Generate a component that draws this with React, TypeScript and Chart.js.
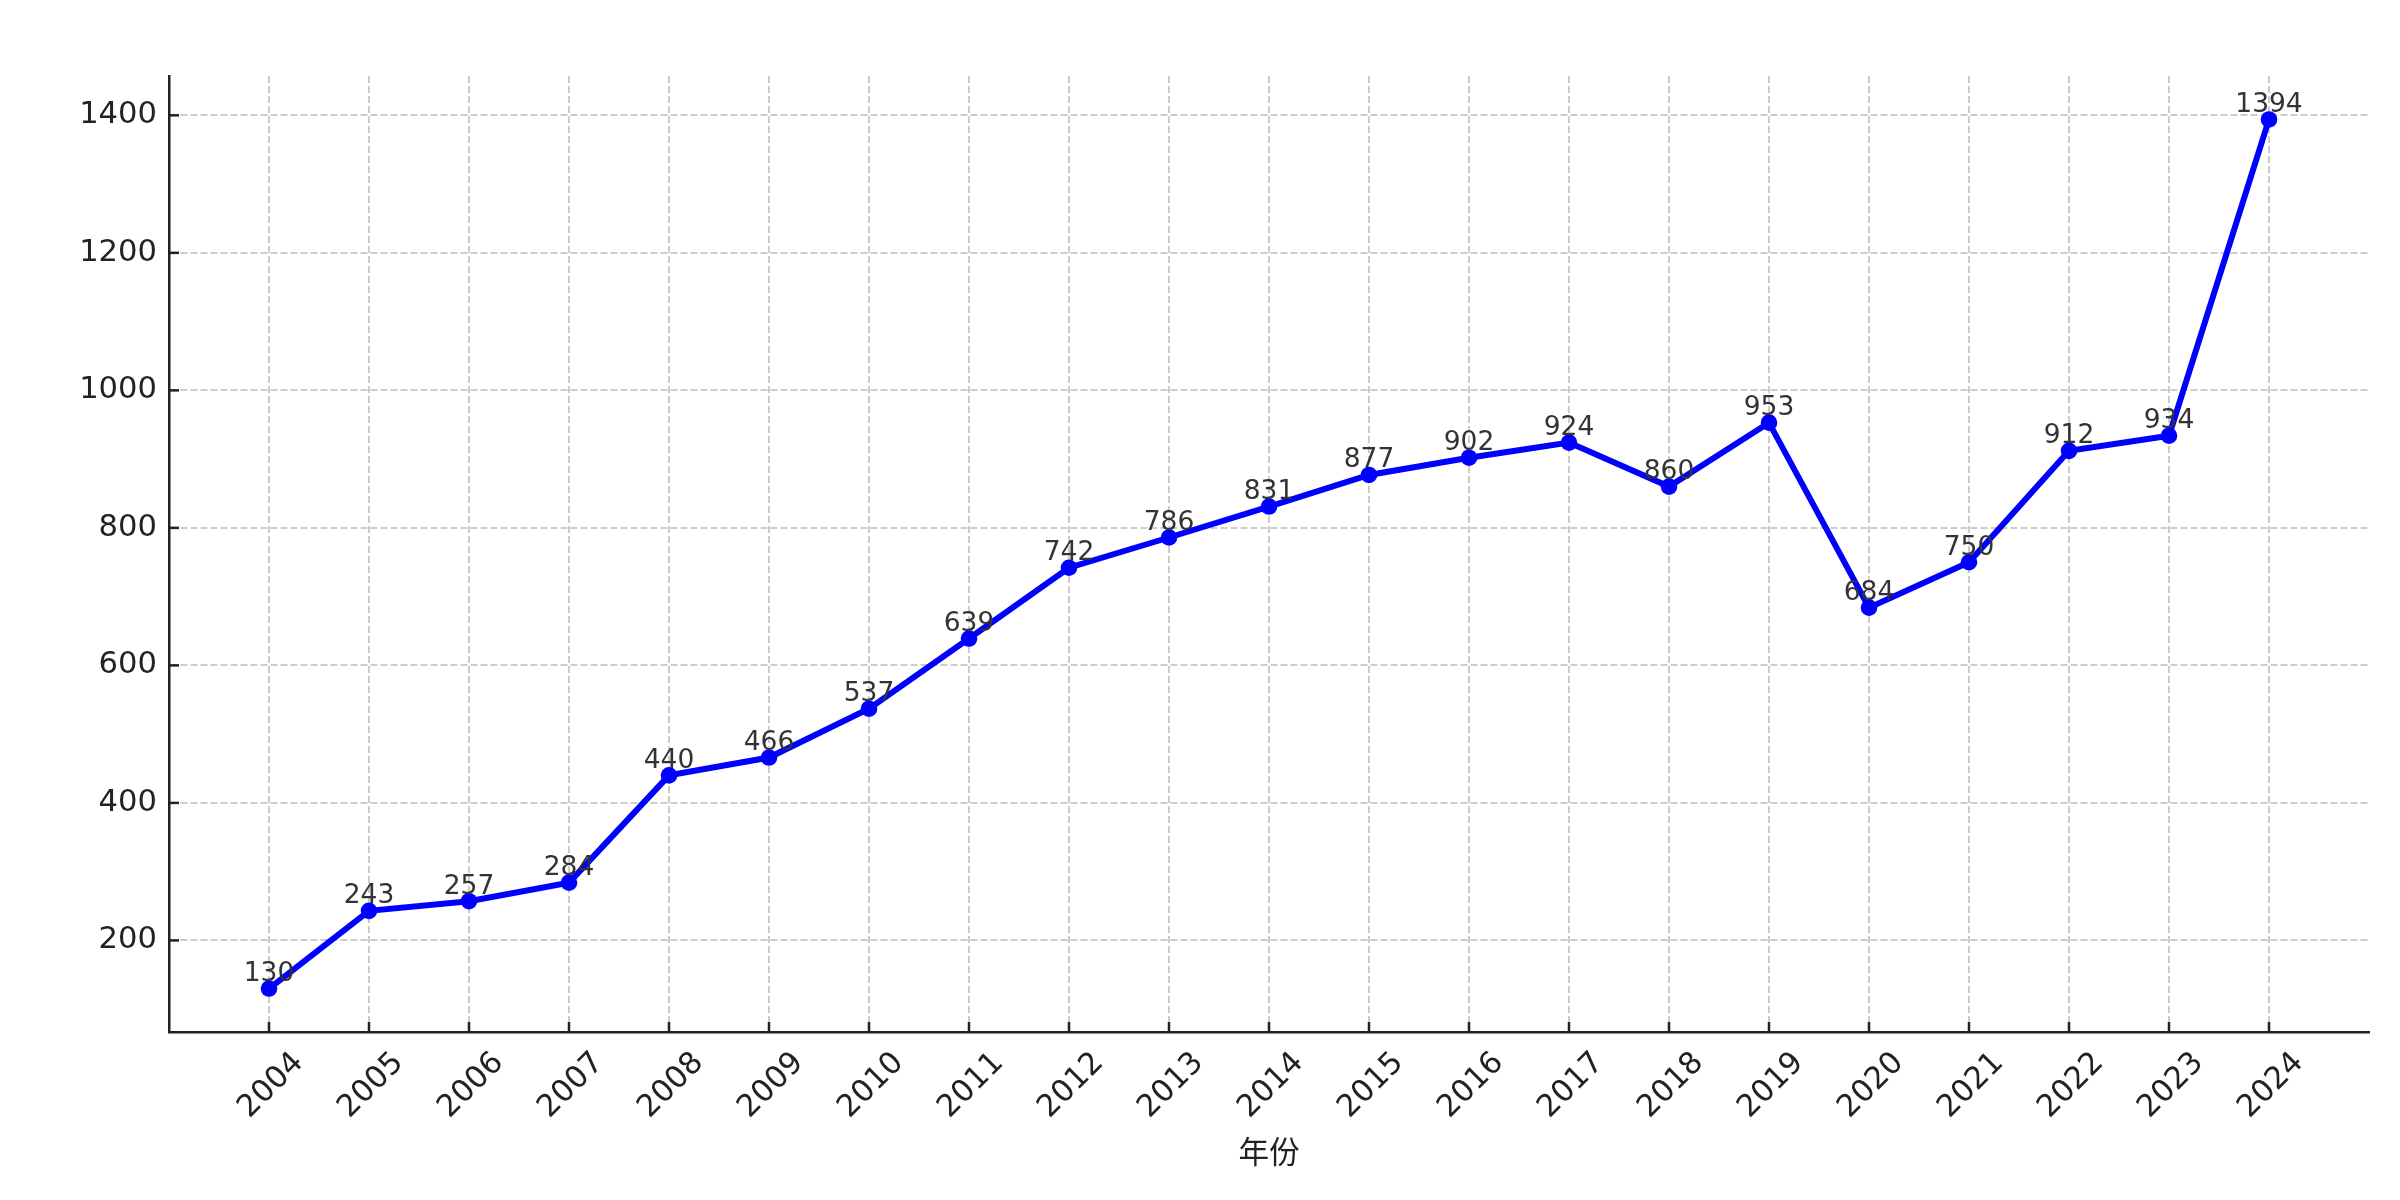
import React, { useEffect, useRef } from 'react';
import { Chart, registerables } from 'chart.js';

Chart.register(...registerables);

const YEARS = ['2004', '2005', '2006', '2007', '2008', '2009', '2010', '2011', '2012', '2013', '2014', '2015', '2016', '2017', '2018', '2019', '2020', '2021', '2022', '2023', '2024'];
const VALUES = [130, 243, 257, 284, 440, 466, 537, 639, 742, 786, 831, 877, 902, 924, 860, 953, 684, 750, 912, 934, 1394];
const Y_TICKS = [200, 400, 600, 800, 1000, 1200, 1400];
const X_TITLE = '年份';

const FONT = '"DejaVu Sans", "Noto Sans CJK SC", sans-serif';

export default function App() {
  const ref = useRef<HTMLCanvasElement>(null);

  useEffect(() => {
    document.body.style.margin = '0';
    const mplPlugin = {
      id: 'mplDecor',
      afterDraw(chart: any) {
        const ctx = chart.ctx as CanvasRenderingContext2D;
        const area = chart.chartArea;
        const xs = chart.scales.x;
        const ys = chart.scales.y;
        ctx.save();
        // inward ticks
        ctx.strokeStyle = '#222222';
        ctx.lineWidth = 2.5;
        ys.ticks.forEach((t: any) => {
          const y = ys.getPixelForValue(t.value);
          ctx.beginPath();
          ctx.moveTo(area.left, y);
          ctx.lineTo(area.left + 10, y);
          ctx.stroke();
        });
        xs.ticks.forEach((t: any) => {
          const x = xs.getPixelForValue(t.value);
          ctx.beginPath();
          ctx.moveTo(x, area.bottom);
          ctx.lineTo(x, area.bottom - 10);
          ctx.stroke();
        });
        // rotated x tick labels (center aligned like matplotlib)
        const fs = 30.6;
        ctx.font = `${fs}px ${FONT}`;
        ctx.fillStyle = '#222222';
        ctx.textAlign = 'center';
        ctx.textBaseline = 'alphabetic';
        xs.ticks.forEach((t: any) => {
          const label = YEARS[t.value];
          if (label === undefined) return;
          const x = xs.getPixelForValue(t.value);
          const w = ctx.measureText(label).width;
          const H = (w + 0.73 * fs) * Math.SQRT1_2;
          const cy = area.bottom + 16 + H / 2;
          ctx.save();
          ctx.translate(x, cy);
          ctx.rotate(-Math.PI / 4);
          ctx.fillText(label, 0, 0.365 * fs);
          ctx.restore();
        });
        // axis title
        ctx.font = `${fs}px ${FONT}`;
        ctx.textBaseline = 'middle';
        ctx.fillText(X_TITLE, (area.left + area.right) / 2, 1155);
        // data labels
        const meta = chart.getDatasetMeta(0);
        ctx.font = `26.5px ${FONT}`;
        ctx.fillStyle = '#333333';
        ctx.textBaseline = 'alphabetic';
        meta.data.forEach((pt: any, i: number) => {
          ctx.fillText(String(VALUES[i]), pt.x, pt.y - 7.5);
        });
        ctx.restore();
      },
    };

    const gridOpts = {
      color: '#cccccc',
      lineWidth: 2,
      drawTicks: false,
    };
    const borderOpts = {
      display: true,
      color: '#222222',
      width: 2.5,
      dash: [7, 3],
    };

    const chart = new Chart(ref.current as HTMLCanvasElement, {
      type: 'line',
      data: {
        datasets: [
          {
            data: VALUES.map((v, i) => ({ x: i, y: v })),
            borderColor: '#0000ff',
            backgroundColor: '#0000ff',
            pointBackgroundColor: '#0000ff',
            pointBorderColor: '#0000ff',
            borderWidth: 6,
            pointRadius: 8.3,
            pointBorderWidth: 0,
            tension: 0,
          },
        ],
      },
      options: {
        responsive: false,
        devicePixelRatio: 1,
        animation: false,
        layout: { padding: { top: 76, right: 31, left: 0, bottom: 0 } },
        plugins: { legend: { display: false }, tooltip: { enabled: false } },
        scales: {
          x: {
            type: 'linear',
            min: -1,
            max: 21,
            afterBuildTicks: (s: any) => {
              s.ticks = YEARS.map((_, i) => ({ value: i }));
            },
            afterFit: (s: any) => {
              s.height = 168;
            },
            ticks: { display: false },
            grid: gridOpts,
            border: borderOpts,
          },
          y: {
            type: 'linear',
            min: 66.8,
            max: 1457.2,
            afterBuildTicks: (s: any) => {
              s.ticks = Y_TICKS.map((v) => ({ value: v }));
            },
            afterFit: (s: any) => {
              s.width = 169;
            },
            ticks: {
              padding: 12,
              color: '#222222',
              font: { family: FONT, size: 30.6 },
              callback: (v: any) => String(v),
            },
            grid: gridOpts,
            border: borderOpts,
          },
        },
      },
      plugins: [mplPlugin],
    } as any);
    return () => chart.destroy();
  }, []);

  return (
    <canvas
      ref={ref}
      width={2400}
      height={1200}
      style={{ position: 'absolute', left: 0, top: 0, width: 2400, height: 1200 }}
    />
  );
}
